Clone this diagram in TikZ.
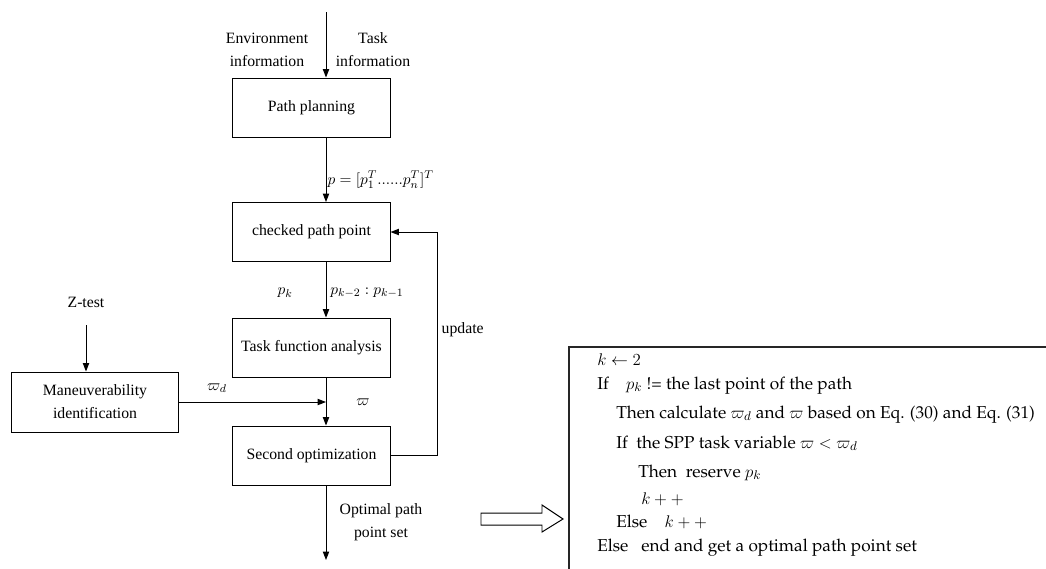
\documentclass[tikz,border=0pt]{standalone}
\usepackage{amsmath}
\usepackage{amssymb}
\usepackage{fontspec}
\setmainfont{Liberation Serif}
\usetikzlibrary{arrows.meta}
\newcommand{\algofont}{\fontencoding{T1}\fontfamily{ppl}\fontsize{12.25}{14}\selectfont}

\begin{document}
\begin{tikzpicture}[x=0.025cm, y=-0.025cm,
		every node/.style={font=\fontsize{11.2}{16.5}\selectfont, align=center},
		block/.style={draw=black, line width=0.7pt, minimum width=3.925cm, minimum height=1.475cm, inner sep=2pt},
		arr/.style={-{Triangle[length=6pt, width=4.5pt]}, line width=0.7pt},
		txt/.style={inner sep=1pt},
		algo/.style={anchor=base west, inner sep=0pt, font=\algofont}]
			\useasboundingbox (0,0) rectangle (1046,568);
			\clip (0,0) rectangle (1046,568);
			
			\node[block] (pp) at (311.5,107.5) {Path planning};
			\node[block] (cp) at (311.5,232) {checked path point};
			\node[block] (tf) at (311.5,347.5) {Task function analysis};
			\node[block] (so) at (311.5,455.5) {Second optimization};
			\node[block, minimum width=4.15cm, minimum height=1.5cm] (mi) at (95,402) {Maneuverability\\identification};
			
			\coordinate (axis) at (326,0);
			\coordinate (in) at (326,12);
			\coordinate (out) at (326,560);
			\coordinate (loop) at (437,0);
			\coordinate (zt) at (86,325);
			
			\node[txt] (env) at (267,50) {Environment\\information};
			\node[txt] (task) at (373,50) {Task\\information};
			\node[txt, anchor=west] (pvec) at (326,180) {$p=[p_1^T......p_n^T]^T$};
			\node[txt] (pk) at (285,293) {$p_k$};
			\node[txt] (pprev) at (367,293) {$p_{k-2}:p_{k-1}$};
			\node[txt] (ztest) at (86,302) {Z-test};
			\node[txt] (wd) at (217,388) {$\varpi_d$};
			\node[txt] (w) at (363,402) {$\varpi$};
			\node[txt, anchor=west] (upd) at (440,330) {update};
			\node[txt] (opt) at (381,522) {Optimal path\\point set};
			
			\draw[arr] (in) -- (pp.north -| in);
			\draw[arr] (pp.south -| axis) -- (cp.north -| axis);
			\draw[arr] (cp.south -| axis) -- (tf.north -| axis);
			\draw[arr] (tf.south -| axis) -- (so.north -| axis);
			\draw[arr] (so.south -| axis) -- (out);
			\draw[arr] (zt) -- (mi.north -| zt);
			\draw[arr] (mi.east) -- (mi.east -| axis);
			\draw[arr] (so.east) -- (so.east -| loop) -- (cp.east -| loop) -- (cp.east);
			
			% hollow arrow to the procedure box
			\draw[line width=0.7pt] (481,513) -- (542,513) -- (542,505) -- (563,519) -- (542,532) -- (542,525) -- (481,525) -- cycle;
			
			% procedure box
			\draw[line width=0.8pt, draw=black!85] (569,600) |- (1080,347);
			\node[algo] (l1) at (597,365) {$k\leftarrow 2$};
			\node[algo] (l2) at (597,389) {If\quad $p_k$ != the last point of the path};
			\node[algo] (l3) at (616,418) {Then calculate $\varpi_d$ and $\varpi$ based on Eq. (30) and Eq. (31)};
			\node[algo] (l4) at (616,448) {If\ \ the SPP task variable $\varpi<\varpi_d$};
			\node[algo] (l5) at (638,477) {Then\ \ reserve $p_k$};
			\node[algo] (l6) at (641,504) {$k++$};
			\node[algo] (l7) at (616,527) {Else\quad $k++$};
			\node[algo] (l8) at (597,551) {Else\ \ \ end and get a optimal path point set};
			\end{tikzpicture}
\end{document}
